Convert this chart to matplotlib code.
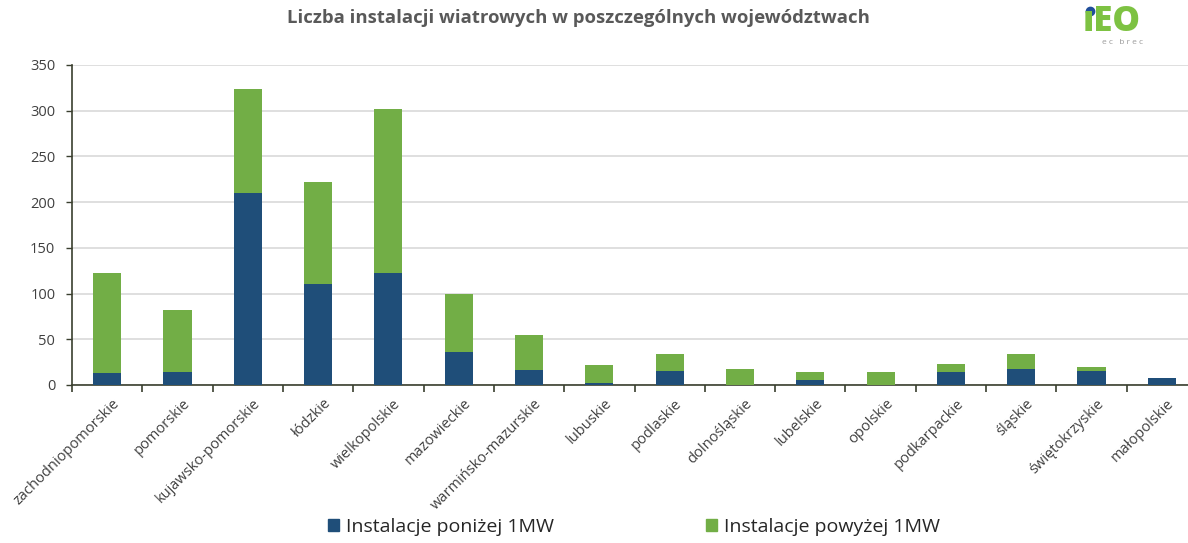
import matplotlib
matplotlib.use("Agg")
import matplotlib.pyplot as plt
import matplotlib.transforms as mtransforms
from matplotlib.patches import Patch
from matplotlib.lines import Line2D
import numpy as np

plt.rcParams['font.family'] = ['Open Sans', 'DejaVu Sans']

categories = ["zachodniopomorskie", "pomorskie", "kujawsko-pomorskie", "łódzkie",
              "wielkopolskie", "mazowieckie", "warmińsko-mazurskie", "lubuskie",
              "podlaskie", "dolnośląskie", "lubelskie", "opolskie", "podkarpackie",
              "śląskie", "świętokrzyskie", "małopolskie"]
below_1mw = [13, 14, 210, 110, 123, 36, 16, 2, 15, 0, 6, 0, 14, 17, 15, 8]
above_1mw = [110, 68, 114, 112, 179, 64, 39, 20, 19, 18, 8, 14, 9, 17, 5, 0]
series_names = ["Instalacje poniżej 1MW", "Instalacje powyżej 1MW"]
title = "Liczba instalacji wiatrowych w poszczególnych województwach"
yticks = [0, 50, 100, 150, 200, 250, 300, 350]

BLUE = "#1F4E79"
GREEN = "#72AE46"
TXT = "#404040"

W, H = 1188, 543
fig = plt.figure(figsize=(W / 100, H / 100), dpi=100)
fig.patch.set_facecolor("white")
ax = fig.add_axes([72 / W, 1 - 385 / H, 1125 / W, 320 / H])

x = np.arange(len(categories))
ax.bar(x, below_1mw, width=0.4, color=BLUE, zorder=3)
ax.bar(x, above_1mw, width=0.4, bottom=below_1mw, color=GREEN, zorder=3)

ax.set_xlim(-0.5, len(categories) - 0.5)
ax.set_ylim(0, 350)
ax.set_yticks(yticks)
ax.yaxis.grid(True, color="#d9d9d9", linewidth=1.2, zorder=0)
ax.set_axisbelow(True)

for s in ["top", "right"]:
    ax.spines[s].set_visible(False)
ax.spines["left"].set_color("#3a3f2f")
ax.spines["bottom"].set_color("#3a3f2f")
ax.spines["left"].set_linewidth(1.2)
ax.spines["bottom"].set_linewidth(1.2)

ax.tick_params(axis="y", length=4, width=1, color="#3a3f2f", labelsize=10.5,
               labelcolor=TXT, pad=8)

# category boundary ticks
ax.set_xticks(np.arange(-0.5, len(categories) + 0.5, 1.0), minor=True)
ax.tick_params(axis="x", which="minor", length=5, width=1.2, color="#3a3f2f", direction="out")
ax.set_xticks(x)
ax.set_xticklabels(categories, rotation=45, ha="right", va="top",
                   rotation_mode="anchor", fontsize=10.5, color=TXT)
ax.tick_params(axis="x", which="major", length=0, pad=8)
offset = mtransforms.ScaledTranslation(5 / 100, 0, fig.dpi_scale_trans)
for lab in ax.get_xticklabels():
    lab.set_transform(lab.get_transform() + offset)

fig.text(578 / W, 1 - 18 / H, title, ha="center", va="center", fontsize=13.3,
         fontweight="bold", color="#595959")

# logo
fig.text(1083 / W, 1 - 22 / H, "ıEO", ha="left", va="center", fontsize=25,
         fontweight="heavy", color="#7DC242")
fig.add_artist(Line2D([1089.5 / W], [1 - 11 / H], marker="o", markersize=6,
                      color="#1F4E9A", linestyle="none", transform=fig.transFigure))
fig.text(1122 / W, 1 - 43 / H, "e c   b r e c", ha="center", va="center", fontsize=6,
         color="#9a9a9a")

handles = [Patch(color=BLUE), Patch(color=GREEN)]
fig.legend(handles, series_names, loc="center", bbox_to_anchor=(634 / W, 1 - 527 / H),
           ncol=2, frameon=False, fontsize=14, handlelength=0.6, handleheight=0.6,
           handletextpad=0.35, columnspacing=7.8, labelcolor="#262626")

fig.savefig("out.png", dpi=100, facecolor="white")
